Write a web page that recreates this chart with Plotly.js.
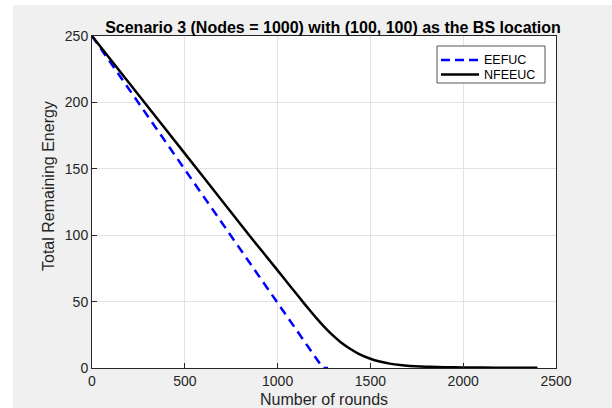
<!DOCTYPE html>
<html>
<head>
<meta charset="utf-8">
<script src="https://cdn.plot.ly/plotly-3.0.1.min.js"></script>
<style>
  html, body { margin: 0; padding: 0; background: #ffffff; }
  #chart { position: absolute; left: 13px; top: 5px; width: 599px; height: 403px; }
</style>
</head>
<body>
<div id="chart"></div>
<script>
// EEFUC series
const eefucRounds = [0, 200, 400, 600, 847, 1000, 1208, 1244, 1272];
const eefucEnergy = [250, 209.8, 169.6, 129.4, 79.8, 48.5, 6.6, 0, 0];
// NFEEUC series
const nfeeucRounds = [0, 200, 400, 600, 847, 1000, 1050, 1100, 1135, 1170, 1208, 1250, 1298, 1340, 1388, 1440, 1500, 1550, 1604, 1660, 1713, 1770, 1821, 1900, 2000, 2100, 2250, 2400];
const nfeeucEnergy = [250, 214.6, 179.2, 143.8, 100, 73.5, 64.8, 56.1, 50, 44, 37.7, 31.2, 24.5, 19.4, 14.7, 10.5, 7.0, 4.9, 3.3, 2.2, 1.56, 1.16, 0.9, 0.65, 0.45, 0.3, 0.18, 0.1];
const xTicks = [0, 500, 1000, 1500, 2000, 2500];
const yTicks = [0, 50, 100, 150, 200, 250];
const seriesNames = ['EEFUC', 'NFEEUC'];

const FONT = 'Liberation Sans, Arial, sans-serif';
const TXT = '#262626';
const colors = ['#0000ff', '#000000'];
const dashes = ['9px,6px', 'solid'];

const traces = [
  {
    x: eefucRounds, y: eefucEnergy, name: seriesNames[0], type: 'scatter', mode: 'lines',
    line: { color: colors[0], width: 2.5, dash: dashes[0] }, showlegend: false
  },
  {
    x: nfeeucRounds, y: nfeeucEnergy, name: seriesNames[1], type: 'scatter', mode: 'lines',
    line: { color: colors[1], width: 2.5, shape: 'spline', smoothing: 0.5 }, showlegend: false
  }
];

const axisCommon = {
  showline: true, linecolor: TXT, linewidth: 1, mirror: true,
  ticks: 'inside', ticklen: 5, tickcolor: TXT, tickwidth: 1,
  showgrid: true, gridcolor: '#e3e3e3', gridwidth: 1,
  zeroline: false, tickfont: { family: FONT, size: 14, color: TXT }
};

// plot area in window pixels: x 92..556, y 36..368
const px = X => (X - 92) / 464;
const py = Y => (368 - Y) / 332;

// legend drawn as a box with samples
const legendRows = [60, 74.5];
const shapes = [
  { type: 'rect', xref: 'paper', yref: 'paper', x0: px(437), x1: px(545), y0: py(83), y1: py(46),
    fillcolor: '#ffffff', line: { color: '#555555', width: 1 }, layer: 'above' }
];
const annotations = [];
seriesNames.forEach((n, i) => {
  shapes.push({ type: 'line', xref: 'paper', yref: 'paper', x0: px(441), x1: px(479),
    y0: py(legendRows[i]), y1: py(legendRows[i]),
    line: { color: colors[i], width: 2.5, dash: i === 0 ? '9px,5px' : 'solid' }, layer: 'above' });
  annotations.push({ xref: 'paper', yref: 'paper', x: px(483), y: py(legendRows[i]),
    xanchor: 'left', yanchor: 'middle', showarrow: false, text: n, borderpad: 0,
    font: { family: FONT, size: 12.5, color: '#000000' } });
});
// y axis title, placed where the reference has it
annotations.push({ xref: 'paper', yref: 'paper', x: px(49), y: py(186),
  xanchor: 'center', yanchor: 'middle', showarrow: false, textangle: -90,
  text: 'Total Remaining Energy', font: { family: FONT, size: 16, color: TXT } });

const layout = {
  width: 599, height: 403,
  paper_bgcolor: '#f0f0f0', plot_bgcolor: '#ffffff',
  margin: { l: 79, r: 56, t: 31, b: 40 },
  showlegend: false,
  title: {
    text: '<b>Scenario 3 (Nodes = 1000) with (100, 100) as the BS location</b>',
    font: { family: FONT, size: 16, color: '#000000' },
    x: 320 / 599, xref: 'container', xanchor: 'center',
    y: 1 - 22 / 403, yref: 'container', yanchor: 'middle'
  },
  xaxis: Object.assign({}, axisCommon, {
    range: [0, 2500], tickvals: xTicks, ticktext: xTicks.map(String),
    title: { text: 'Number of rounds', font: { family: FONT, size: 16, color: TXT }, standoff: 6 }
  }),
  yaxis: Object.assign({}, axisCommon, {
    range: [0, 250], tickvals: yTicks, ticktext: yTicks.map(String)
  }),
  shapes: shapes,
  annotations: annotations
};

Plotly.newPlot('chart', traces, layout, { staticPlot: true, displayModeBar: false });
</script>
</body>
</html>
